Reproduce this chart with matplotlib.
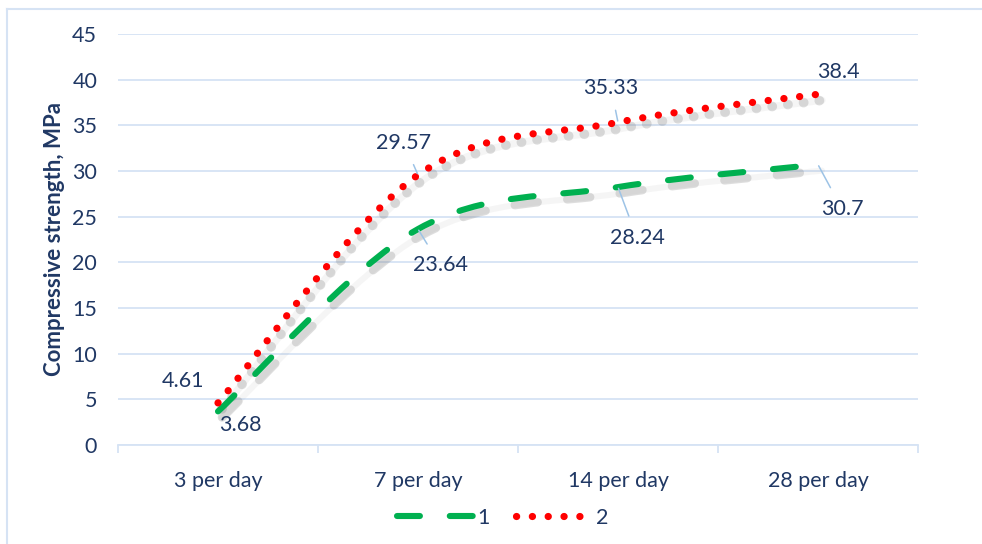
import numpy as np
import matplotlib
matplotlib.use("Agg")
import matplotlib.pyplot as plt
from matplotlib.path import Path
from matplotlib.patches import PathPatch
from matplotlib.lines import Line2D
import matplotlib.transforms as mtransforms

plt.rcParams["font.family"] = ["Lato", "DejaVu Sans"]
plt.rcParams["lines.scale_dashes"] = False

categories = ["3 per day", "7 per day", "14 per day", "28 per day"]
series1 = [3.68, 23.64, 28.24, 30.7]
series2 = [4.61, 29.57, 35.33, 38.4]
series_names = ["1", "2"]

TXT = "#203864"
GRID = "#D6E3F4"
LEADER = "#9DC3E6"
GREEN = "#00B050"
RED = "#FF0000"

GREEN_LS = (0, (16.5, 21.5))
RED_LS = (0, (0.1, 11.3))
FS = 15.5


def smooth_path(xs, ys):
    # Excel style smoothed line: cubic bezier through the points
    pts = np.column_stack([xs, ys]).astype(float)
    n = len(pts)
    verts = [pts[0]]
    codes = [Path.MOVETO]
    for i in range(n - 1):
        p0 = pts[i - 1] if i > 0 else pts[i]
        p1 = pts[i]
        p2 = pts[i + 1]
        p3 = pts[i + 2] if i + 2 < n else pts[i + 1]
        c1 = p1 + (p2 - p0) / 6.0
        c2 = p2 - (p3 - p1) / 6.0
        verts += [c1, c2, p2]
        codes += [Path.CURVE4] * 3
    return Path(verts, codes)


fig = plt.figure(figsize=(9.82, 5.44), dpi=100)
ax = fig.add_axes([118 / 982, 1 - 445 / 544, 800 / 982, 411 / 544])

x = np.arange(len(categories))

shadow_tr = mtransforms.offset_copy(ax.transData, fig=fig, x=4, y=-6, units="dots")
for ys, col, ls, lw in [(series1, GREEN, GREEN_LS, 4.4), (series2, RED, RED_LS, 5.2)]:
    p = smooth_path(x, ys)
    ax.add_patch(PathPatch(p, fill=False, edgecolor="#7f7f7f", alpha=0.26, lw=lw + 1.8,
                           linestyle=ls, capstyle="round", transform=shadow_tr, zorder=2))
    ax.add_patch(PathPatch(p, fill=False, edgecolor="#7f7f7f", alpha=0.07, lw=lw,
                           linestyle="-", capstyle="round", transform=shadow_tr, zorder=2))
    ax.add_patch(PathPatch(p, fill=False, edgecolor=col, lw=lw, linestyle=ls,
                           capstyle="round", zorder=3))

ax.set_xlim(-0.5, 3.5)
ax.set_ylim(0, 45)
ax.set_yticks(np.arange(0, 46, 5))
ax.grid(axis="y", color=GRID, lw=1.3)
ax.set_axisbelow(True)
for s in ["left", "right", "top"]:
    ax.spines[s].set_visible(False)
ax.spines["bottom"].set_color(GRID)
ax.spines["bottom"].set_linewidth(1.3)

ax.set_xticks(x)
ax.set_xticklabels(categories)
ax.set_xticks(np.arange(-0.5, 3.6, 1), minor=True)
ax.tick_params(axis="x", which="major", length=0, pad=19, labelsize=FS, labelcolor=TXT)
ax.tick_params(axis="x", which="minor", length=6, color=GRID, width=1.3)
ax.tick_params(axis="y", length=0, pad=15, labelsize=FS, labelcolor=TXT)

ax.set_ylabel("Compressive strength, MPa", fontsize=16, fontweight="bold",
              color=TXT, labelpad=5)

# data labels: (series values, index, text offset in data units, leader)
labels = [
    (series2, 0, (-0.175, 2.44), False),
    (series1, 0, (0.11, -1.49), False),
    (series2, 1, (-0.07, 3.5), True),
    (series1, 1, (0.11, -3.94), True),
    (series2, 2, (-0.035, 3.76), True),
    (series1, 2, (0.095, -5.57), True),
    (series2, 3, (0.10, 2.44), False),
    (series1, 3, (0.12, -4.86), True),
]
for vals, i, (dx, dy), leader in labels:
    v = vals[i]
    props = dict(arrowstyle="-", color=LEADER, lw=1.1, shrinkA=7, shrinkB=1) if leader else None
    ax.annotate(f"{v:g}", xy=(i, v), xytext=(i + dx, v + dy), fontsize=FS, color=TXT,
                ha="center", va="center", arrowprops=props, zorder=4)

handles = [
    Line2D([], [], color=GREEN, lw=4.4, linestyle=GREEN_LS, dash_capstyle="round"),
    Line2D([], [], color=RED, lw=5.2, linestyle=RED_LS, dash_capstyle="round"),
]
fig.legend(handles, series_names, loc="center", bbox_to_anchor=(0.512, 1 - 518 / 544),
           ncol=2, frameon=False, fontsize=FS, labelcolor=TXT, handlelength=3.6,
           handletextpad=0.15, columnspacing=1.2)

# chart border (left and top)
fig.add_artist(Line2D([7 / 982, 7 / 982], [0, 1 - 9 / 544], color=GRID, lw=1.5))
fig.add_artist(Line2D([7 / 982, 1], [1 - 9 / 544, 1 - 9 / 544], color=GRID, lw=1.5))

fig.savefig("out.png", dpi=100)
